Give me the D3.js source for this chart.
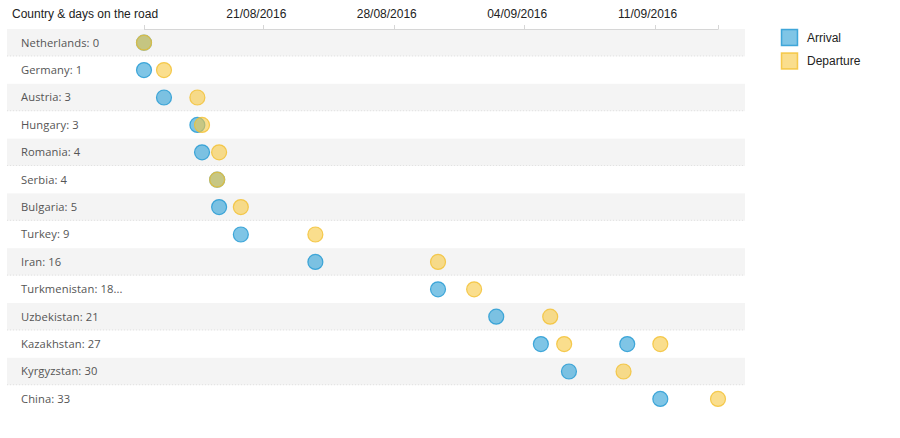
<!DOCTYPE html>
<html><head><meta charset="utf-8">
<script src="https://cdn.jsdelivr.net/npm/d3@7"></script>
<style>body{margin:0;background:#fff}svg{display:block}</style>
</head><body><svg id="c" width="900" height="438"></svg>
<script>
const headerLabel = "Country & days on the road";
const countries = ["Netherlands","Germany","Austria","Hungary","Romania","Serbia","Bulgaria","Turkey","Iran","Turkmenistan","Uzbekistan","Kazakhstan","Kyrgyzstan","China"];
const daysOnRoad = ["0","1","3","3","4","4","5","9","16","18...","21","27","30","33"];
const stayCountry = ["Netherlands","Germany","Austria","Hungary","Romania","Serbia","Bulgaria","Turkey","Iran","Turkmenistan","Uzbekistan","Kazakhstan","Kyrgyzstan","Kazakhstan","China"];
const arrival   = ["2016-08-14 14:15","2016-08-14 14:15","2016-08-15 16:00","2016-08-17 11:00","2016-08-17 17:00","2016-08-18 12:30","2016-08-18 15:00","2016-08-19 19:00","2016-08-23 19:00","2016-08-30 09:00","2016-09-02 12:00","2016-09-04 21:30","2016-09-06 09:40","2016-09-09 12:45","2016-09-11 07:20"];
const departure = ["2016-08-14 14:15","2016-08-15 16:00","2016-08-17 11:00","2016-08-17 17:00","2016-08-18 15:00","2016-08-18 12:30","2016-08-19 19:00","2016-08-23 19:00","2016-08-30 09:00","2016-09-01 07:30","2016-09-05 09:30","2016-09-06 03:30","2016-09-09 08:00","2016-09-11 07:20","2016-09-14 09:40"];
const tickDates = ["2016-08-21 00:00","2016-08-28 00:00","2016-09-04 00:00","2016-09-11 00:00"];
const seriesNames = ["Arrival","Departure"];

const parse = d3.utcParse("%Y-%m-%d %H:%M");
const fmt = d3.utcFormat("%d/%m/%Y");
const arr = arrival.map(parse), dep = departure.map(parse);
const svg = d3.select("#c");

const x = d3.scaleUtc().domain(d3.extent(arr.concat(dep))).range([144, 718]);
const y = d3.scaleBand().domain(countries).range([29, 29 + countries.length * 27.4]);

const colors = {
  Arrival:   {fill: "#2a9fd6", stroke: "#1e97d2"},
  Departure: {fill: "#f7c841", stroke: "#f2bf2e"}
};

// row bands
svg.append("g").selectAll("rect").data(countries.filter((d,i)=>i%2===0)).join("rect")
  .attr("x", 7).attr("width", 738).attr("y", d=>y(d)).attr("height", y.bandwidth())
  .attr("fill", "#f4f4f4");
svg.append("g").selectAll("line").data(countries.filter((d,i)=>i%2===0)).join("line")
  .attr("x1", 7).attr("x2", 745).attr("y1", d=>y(d)+y.bandwidth()-0.5).attr("y2", d=>y(d)+y.bandwidth()-0.5)
  .attr("stroke", "#e2e2e2").attr("stroke-dasharray", "1,2");

// axis
const ax = svg.append("g");
ax.append("line").attr("x1", x.range()[0]).attr("x2", x.range()[1]).attr("y1", 29.5).attr("y2", 29.5)
  .attr("stroke", "#d6d6d6");
const tks = tickDates.map(parse);
const tickX = [x.range()[0]].concat(tks.map(d=>x(d)), [x.range()[1]]);
ax.selectAll("line.t").data(tickX).join("line").attr("class","t")
  .attr("x1", d=>Math.round(d)+0.5).attr("x2", d=>Math.round(d)+0.5).attr("y1", 25).attr("y2", 29.5)
  .attr("stroke", "#d6d6d6");
ax.selectAll("text").data(tks).join("text")
  .attr("x", d=>x(d)-7).attr("y", 18).attr("text-anchor","middle")
  .attr("font-family","'Liberation Sans', Arial, sans-serif").attr("font-size", 12).attr("fill","#222")
  .text(d=>fmt(d));
svg.append("text").attr("x", 12).attr("y", 18)
  .attr("font-family","'Liberation Sans', Arial, sans-serif").attr("font-size", 12).attr("fill","#222")
  .text(headerLabel);

// row labels
svg.append("g").selectAll("text").data(countries).join("text")
  .attr("x", 21).attr("y", d=>y(d)+y.bandwidth()/2).attr("dy","0.35em")
  .attr("font-family","'Open Sans', 'Noto Sans', sans-serif").attr("font-size", 11.2)
  .attr("letter-spacing", 0.1).attr("fill","#555")
  .text((d,i)=>d + ": " + daysOnRoad[i]);

// points
const r = 7.5;
function drawSeries(dates, name) {
  svg.append("g").selectAll("circle").data(dates).join("circle")
    .attr("cx", d=>x(d)).attr("cy", (d,i)=>y(stayCountry[i])+y.bandwidth()/2).attr("r", r)
    .attr("fill", colors[name].fill).attr("fill-opacity", 0.6)
    .attr("stroke", colors[name].stroke).attr("stroke-opacity", 0.8).attr("stroke-width", 1.2);
}
drawSeries(arr, "Arrival");
drawSeries(dep, "Departure");

// legend
const lg = svg.append("g");
seriesNames.forEach((n,i)=>{
  lg.append("rect").attr("x", 781.5).attr("y", 29.5 + i*23.5).attr("width", 16).attr("height", 16)
    .attr("fill", colors[n].fill).attr("fill-opacity", 0.6)
    .attr("stroke", colors[n].stroke).attr("stroke-opacity", 0.8).attr("stroke-width", 1.5);
  lg.append("text").attr("x", 807).attr("y", 37.5 + i*23.5).attr("dy","0.35em")
    .attr("font-family","'Liberation Sans', Arial, sans-serif").attr("font-size", 12).attr("fill","#222")
    .text(n);
});
</script></body></html>
